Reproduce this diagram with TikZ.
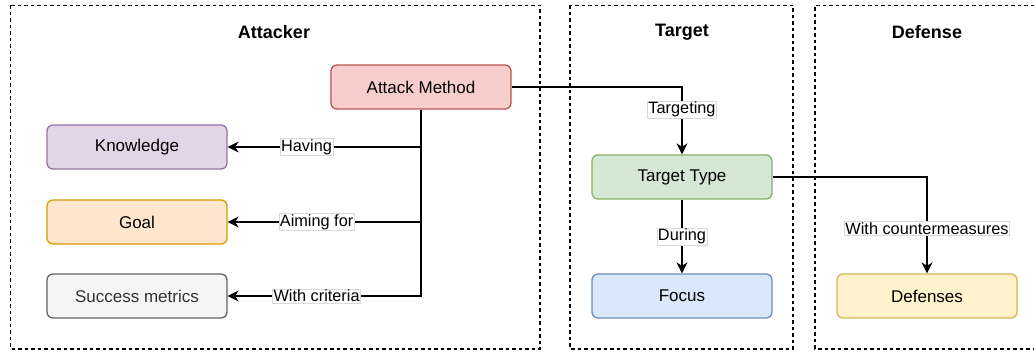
\documentclass[tikz,border=0pt]{standalone}
\usepackage{fontspec}
\setmainfont{Liberation Sans}
\usetikzlibrary{arrows.meta}

\definecolor{redfill}{HTML}{F8CECC}\definecolor{redline}{HTML}{B85450}
\definecolor{purplefill}{HTML}{E1D5E7}\definecolor{purpleline}{HTML}{9673A6}
\definecolor{orangefill}{HTML}{FFE6CC}\definecolor{orangeline}{HTML}{D79B00}
\definecolor{greyfill}{HTML}{F5F5F5}\definecolor{greyline}{HTML}{666666}
\definecolor{greytext}{HTML}{333333}
\definecolor{greenfill}{HTML}{D5E8D4}\definecolor{greenline}{HTML}{82B366}
\definecolor{bluefill}{HTML}{DAE8FC}\definecolor{blueline}{HTML}{6C8EBF}
\definecolor{yellowfill}{HTML}{FFF2CC}\definecolor{yellowline}{HTML}{D6B656}

\tikzset{
  box/.style={rectangle, rounded corners=6pt, line width=1.3pt, minimum width=180pt, minimum height=44pt, font=\fontsize{17}{20}\selectfont},
  frame/.style={dashed, dash pattern=on 3.5pt off 3pt, line width=1.1pt},
  title/.style={font=\fontsize{18}{21}\selectfont\bfseries},
  arr/.style={line width=1.3pt, -{Stealth[length=11pt, width=11pt, inset=3.5pt]}},
  lbl/.style={fill=white, draw=black!15, line width=0.5pt, inner sep=1pt, font=\fontsize{16.3}{19}\selectfont}
}

\begin{document}
\begin{tikzpicture}[x=1pt, y=-1pt]
			\useasboundingbox (0,0) rectangle (1034,352);
			
			% Frames
			\draw[frame] (10.5,5.5) rectangle (540,349);
			\draw[frame] (570,5.5) rectangle (793,349);
			\draw[frame] (1034,5.5) -- (815,5.5) -- (815,349) -- (1034,349);
			
			% Titles
			\node[title] (TA) at (274,32) {Attacker};
			\node[title] (TT) at (682,32) {Target};
			\node[title] (TD) at (927,32) {Defense};
			
			% Attacker nodes
			\node[box, fill=redfill, draw=redline] (M) at (421,87) {Attack Method};
			\node[box, fill=purplefill, draw=purpleline] (K) at (137,147) {Knowledge};
			\node[box, fill=orangefill, draw=orangeline] (G) at (137,222) {Goal};
			\node[box, fill=greyfill, draw=greyline, text=greytext] (S) at (137,296) {Success metrics};
			
			% Target nodes
			\node[box, fill=greenfill, draw=greenline] (T) at (682,177) {Target Type};
			\node[box, fill=bluefill, draw=blueline] (F) at (682,296) {Focus};
			
			% Defense node
			\node[box, fill=yellowfill, draw=yellowline] (D) at (927,296) {Defenses};
			
			% Edges from Attack Method
			\draw[arr] (M.south) |- node[lbl, pos=0.796] {Having} (K.east);
			\draw[arr] (M.south) |- node[lbl, pos=0.77] {Aiming for} (G.east);
			\draw[arr] (M.south) |- node[lbl, pos=0.77] {With criteria} (S.east);
			\draw[arr] (M.east) -| node[lbl, pos=0.669] {Targeting} (T.north);
			
			% Edges from Target Type
			\draw[arr] (T.south) -- node[lbl] {During} (F.north);
			\draw[arr] (T.east) -| node[lbl, pos=0.768] {With countermeasures} (D.north);
		\end{tikzpicture}
\end{document}
